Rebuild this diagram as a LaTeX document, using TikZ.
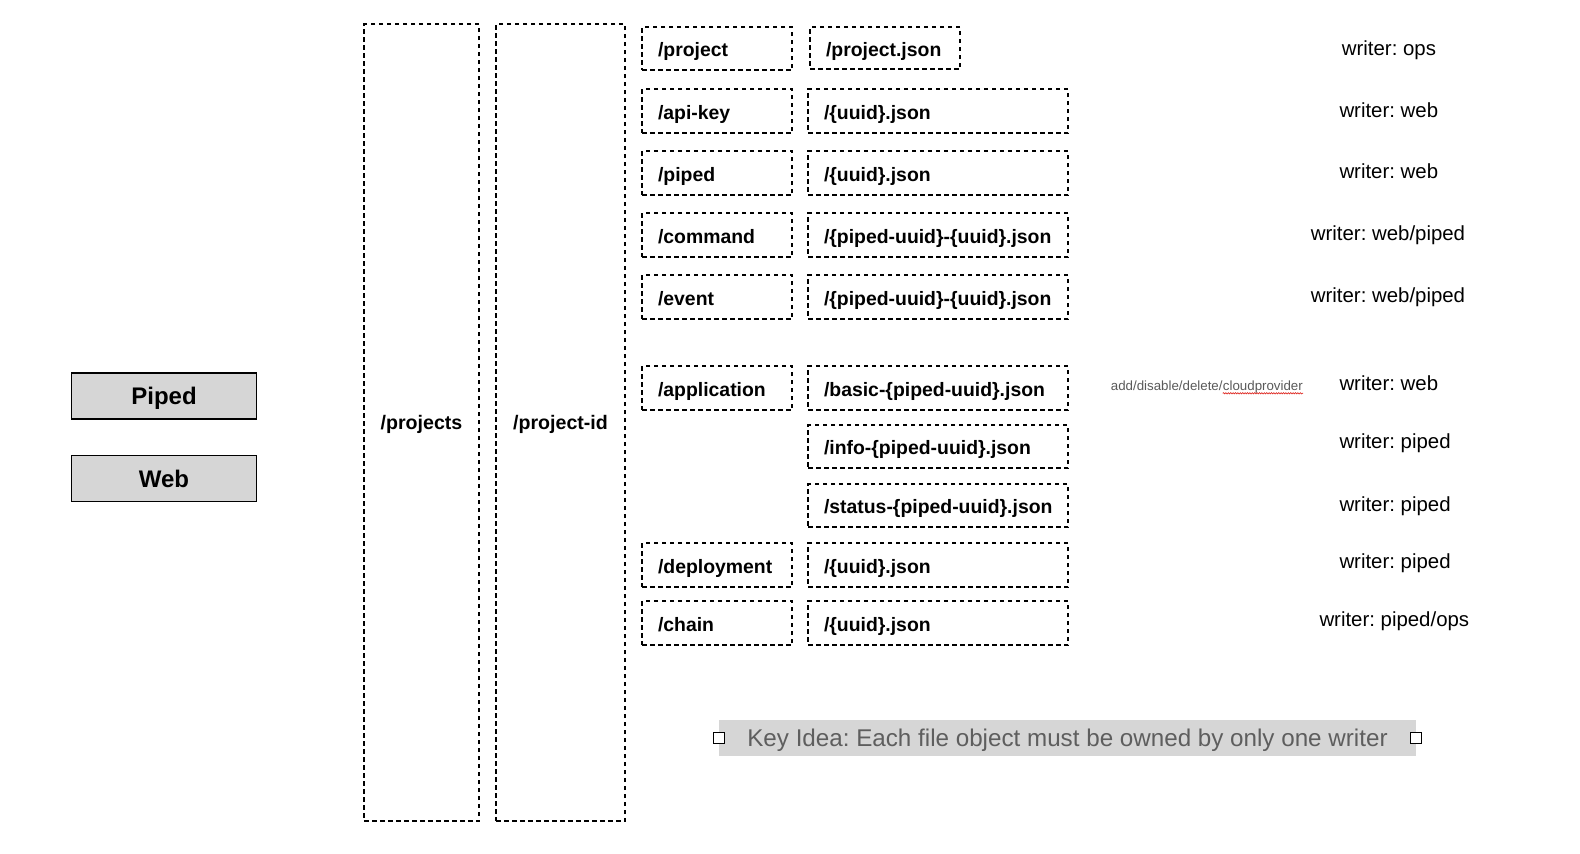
\documentclass[tikz,border=0pt]{standalone}
\usepackage{fontspec}
\setmainfont{Liberation Sans}
\usetikzlibrary{decorations.pathmorphing}
\definecolor{boxgray}{HTML}{D6D6D6}
\definecolor{keytext}{HTML}{5E5E5E}
\definecolor{notegray}{HTML}{5A5A5A}
\definecolor{spellred}{HTML}{E0302A}
\frenchspacing
\begin{document}
\begin{tikzpicture}[x=1pt,y=-1pt,
  dbox/.style={draw=black, line width=1.9pt, dash pattern=on 4.5pt off 3.5pt,
    inner ysep=0pt, inner xsep=16pt, minimum height=44pt,
    text height=16pt, text depth=0pt, align=left,
    execute at begin node={\hyphenpenalty=10000\exhyphenpenalty=10000},
    font=\fontsize{19.4}{23}\selectfont\bfseries},
  cone/.style={dbox, text width=118pt},
  ctwo/.style={dbox, text width=228pt},
  tallbox/.style={draw=black, line width=1.9pt, dash pattern=on 4.5pt off 3.5pt,
    inner sep=0pt, minimum height=797pt, text height=14pt, text depth=0pt,
    font=\fontsize{19.6}{23}\selectfont\bfseries},
  actor/.style={draw=black, line width=1.9pt, fill=boxgray, inner sep=0pt,
    minimum width=185pt, minimum height=46pt, text height=17pt, text depth=0pt,
    font=\fontsize{24}{28}\selectfont\bfseries},
  wr/.style={anchor=base west, inner sep=0pt, font=\fontsize{20.4}{24}\selectfont},
  handle/.style={draw=black, line width=1pt, fill=white, minimum size=11pt, inner sep=0pt}
]
\fill[white] (0,0) rectangle (1580,854);
\useasboundingbox (0,0) rectangle (1580,854);

% actors
\node[actor] (piped) at (164,396.3) {Piped};
\node[actor] (web) at (164,478.5) {Web};

% tall columns
\node[tallbox, minimum width=115pt] (projects) at (421.5,422.5) {/projects};
\node[tallbox, minimum width=129pt] (projectid) at (560.5,422.5) {/project-id};

% column 1
\node[cone, minimum height=43pt] (project) at (717,48.5) {/project};
\node[cone] (apikey) at (717,111) {/api-key};
\node[cone] (pipeddir) at (717,173) {/piped};
\node[cone] (command) at (717,235) {/command};
\node[cone] (event) at (717,297) {/event};
\node[cone] (application) at (717,388) {/application};
\node[cone] (deployment) at (717,565) {/deployment};
\node[cone] (chain) at (717,623) {/chain};

% column 2
\node[cone, minimum height=42pt] (projectjson) at (885,48) {/project.json};
\node[ctwo] (apikeyjson) at (938,111) {/\{uuid\}.json};
\node[ctwo] (pipedjson) at (938,173) {/\{uuid\}.json};
\node[ctwo] (commandjson) at (938,235) {/\{piped-uuid\}-\{uuid\}.json};
\node[ctwo] (eventjson) at (938,297) {/\{piped-uuid\}-\{uuid\}.json};
\node[ctwo] (basicjson) at (938,388) {/basic-\{piped-uuid\}.json};
\node[ctwo, minimum height=43pt] (infojson) at (938,446.5) {/info-\{piped-uuid\}.json};
\node[ctwo, minimum height=43pt] (statusjson) at (938,505.5) {\mbox{/status-\{piped-uuid\}.json}};
\node[ctwo] (deploymentjson) at (938,565) {/\{uuid\}.json};
\node[ctwo] (chainjson) at (938,623) {/\{uuid\}.json};

% writers
\node[wr] (w1) at (1341.7,55.3) {writer: ops};
\node[wr] (w2) at (1339.3,117) {writer: web};
\node[wr] (w3) at (1339.3,178.6) {writer: web};
\node[wr] (w4) at (1310.7,240.6) {writer: web/piped};
\node[wr] (w5) at (1310.7,302.9) {writer: web/piped};
\node[wr] (w6) at (1339.3,390.3) {writer: web};
\node[wr] (w7) at (1339.3,448.6) {writer: piped};
\node[wr] (w8) at (1339.3,511.9) {writer: piped};
\node[wr] (w9) at (1339.3,568.6) {writer: piped};
\node[wr] (w10) at (1319.3,626.6) {writer: piped/ops};

% note
\node[anchor=base west, inner sep=0pt, text=notegray, font=\fontsize{13.3}{16}\selectfont] (note) at (1110.7,390.5) {add/disable/delete/};
\node[anchor=base west, inner sep=0pt, text=notegray, font=\fontsize{13.3}{16}\selectfont] (cloud) at (note.base east) {cloudprovider};
\coordinate (ulA) at ([yshift=-2.8pt]cloud.base west);
\coordinate (ulB) at ([yshift=-2.8pt]cloud.base east);
\draw[spellred, line width=0.7pt, decorate, decoration={snake, amplitude=0.6pt, segment length=2.4pt}] (ulA) -- (ulB);

% key idea
\node[fill=boxgray, inner sep=0pt, minimum width=697pt, minimum height=36pt,
  text height=17.4pt, text depth=0pt, text=keytext,
  font=\fontsize{24.2}{28}\selectfont] (keyidea) at (1067.5,738)
  {Key Idea: Each file object must be owned by only one writer};
\node[handle] (hleft) at (keyidea.west) {};
\node[handle] (hright) at (keyidea.east) {};
\end{tikzpicture}
\end{document}
